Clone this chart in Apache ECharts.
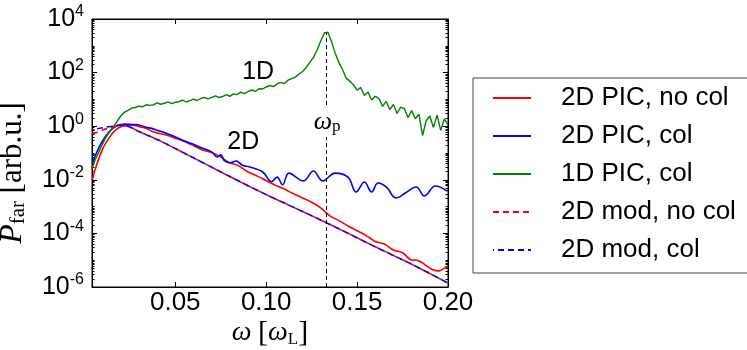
<!DOCTYPE html>
<html><head><meta charset="utf-8">
<script src="https://cdn.jsdelivr.net/npm/echarts@6/dist/echarts.min.js"></script>
<style>html,body{margin:0;padding:0;background:#fff}#c{width:747px;height:350px}</style>
</head><body><div id="c"></div>
<script>
// ---- data ----
const xTicks = [0.05, 0.10, 0.15, 0.20];
const xTickLabels = ['0.05', '0.10', '0.15', '0.20'];

const redOmega = [0.0044,0.006,0.008,0.010,0.012,0.014,0.016,0.018,0.020,0.022,0.025,0.028,0.031,0.034,0.037,0.040,0.045,0.050,0.055,0.060,0.065,0.070,0.075,0.080,0.085,0.090,0.095,0.100,0.105,0.110,0.115,0.120,0.125,0.130,0.135,0.140,0.145,0.150,0.155,0.160,0.165,0.170,0.175,0.180,0.183,0.186,0.189,0.192,0.195,0.198,0.200];
const redP = [0.010,0.025,0.063,0.14,0.25,0.40,0.60,0.79,0.95,1.05,1.10,1.07,0.93,0.83,0.65,0.56,0.47,0.355,0.27,0.19,0.13,0.105,0.071,0.043,0.033,0.0195,0.014,0.0093,0.0063,0.0045,0.0030,0.0021,0.00145,0.00089,0.00045,0.00030,0.00019,0.000126,0.000083,0.00005,0.00004,0.000024,0.000019,0.0000102,0.0000100,0.0000079,0.0000056,0.0000043,0.000004,0.000005,0.0000056];

const blueOmega = [0.0044,0.006,0.008,0.010,0.012,0.014,0.016,0.018,0.020,0.022,0.025,0.028,0.031,0.034,0.037,0.040,0.045,0.050,0.055,0.060,0.065,0.070,0.073,0.075,0.077,0.080,0.0835,0.087,0.091,0.098,0.103,0.106,0.109,0.1125,0.1205,0.126,0.131,0.138,0.145,0.1495,0.154,0.158,0.1615,0.166,0.1715,0.1765,0.1825,0.187,0.193,0.1995];
const blueP = [0.040,0.079,0.16,0.28,0.45,0.66,0.87,1.05,1.15,1.2,1.17,1.15,1.07,0.91,0.83,0.71,0.55,0.40,0.28,0.21,0.15,0.11,0.071,0.085,0.052,0.043,0.050,0.035,0.030,0.020,0.0085,0.0126,0.0065,0.0178,0.0091,0.0214,0.0091,0.0178,0.0126,0.0035,0.0083,0.0035,0.0076,0.0054,0.0021,0.0032,0.0054,0.0025,0.0059,0.0038];

const greenOmega = [0.004,0.006,0.008,0.010,0.012,0.014,0.016,0.018,0.020,0.022,0.024,0.026,0.028,0.030,0.032,0.034,0.036,0.038,0.040,0.042,0.044,0.046,0.048,0.050,0.052,0.054,0.056,0.058,0.060,0.062,0.064,0.066,0.068,0.070,0.072,0.074,0.076,0.078,0.080,0.082,0.084,0.086,0.088,0.090,0.092,0.094,0.096,0.098,0.100,0.102,0.104,0.106,0.108,0.110,0.112,0.114,0.116,0.118,0.120,0.122,0.124,0.126,0.128,0.130,0.132,0.134,0.136,0.138,0.140,0.142,0.144,0.146,0.148,0.150,0.152,0.154,0.156,0.158,0.160,0.162,0.164,0.166,0.168,0.170,0.172,0.174,0.176,0.178,0.180,0.182,0.184,0.186,0.188,0.190,0.192,0.194,0.196,0.198,0.200];
const greenP = [0.025,0.056,0.11,0.22,0.40,0.63,0.95,1.5,2.4,3.3,
3.9,4.7,5.0,5.6,5.3,6.3,6.0,6.2,7.4,6.6,
7.2,8.1,7.0,7.8,8.2,9.4,8.0,9.0,10.2,9.1,
10.8,11.9,10.4,11.6,13.5,11.8,12.8,15.2,13.0,16.0,
15.0,18.6,16.4,19.5,22.4,19.8,25.0,24.5,29,33,
30,38,43,39,52,60,68,88,110,155,
240,370,700,1500,3000,3200,1400,520,240,130,
62,48,35,22,28,14,19,9.5,13,11,
5.5,8.5,4.2,6.5,3.0,5.2,4.5,2.1,3.8,1.9,
2.8,0.45,1.6,2.4,0.9,2.6,0.7,1.9,1.1];

const modOmega = [0.0042,0.007,0.010,0.013,0.016,0.019,0.022,0.026,0.030,0.040,0.060,0.080,0.100,0.120,0.140,0.160,0.180,0.200];
const modNoColP = [0.52,0.60,0.72,0.85,0.95,1.03,1.05,0.87,0.63,0.32,0.066,0.0132,0.0028,0.00066,0.000148,0.0000316,0.0000071,0.0000014];
const modColP = [0.74,0.80,0.87,0.95,1.0,1.07,1.05,0.87,0.63,0.32,0.066,0.0132,0.0028,0.00066,0.000148,0.0000316,0.0000071,0.0000014];

const omegaP = 0.133;
const peakP = 3100;

const seriesNames = ['2D PIC, no col', '2D PIC, col', '1D PIC, col', '2D mod, no col', '2D mod, col'];

// ---- chart ----
const pairs = (xs, ys) => xs.map((x, i) => [x, ys[i]]);
const minorLog = [];
for (let d = -6; d < 4; d++) {
  if (d % 2 !== 0) minorLog.push(d);
  for (let k = 2; k <= 9; k++) minorLog.push(d + Math.log10(k));
}
const serif = 'Liberation Serif';
const sans = 'Liberation Sans';

const chart = echarts.init(document.getElementById('c'), null, {renderer: 'canvas'});
const tickStyle = {color: '#000', width: 1};

chart.setOption({
  animation: false,
  backgroundColor: '#fff',
  textStyle: {fontFamily: sans, color: '#000'},
  grid: {left: 92, right: 299, top: 19, bottom: 63, show: true, borderColor: '#000', borderWidth: 1, backgroundColor: 'transparent'},
  legend: {
    data: seriesNames, orient: 'vertical', left: 473, top: 78,
    padding: [7, 12, 10, 19], itemWidth: 38, itemHeight: 14, itemGap: 12,
    borderColor: '#444', borderWidth: 1, backgroundColor: '#fff',
    itemStyle: {opacity: 0, borderWidth: 0},
    textStyle: {fontSize: 26, fontFamily: sans, color: '#000', lineHeight: 26, padding: [0, 0, 0, 25]},
    selectedMode: false
  },
  xAxis: [
    {type: 'value', min: 0.0042, max: 0.2, position: 'bottom',
     axisLine: {show: true, onZero: false, lineStyle: tickStyle},
     axisTick: {show: true, inside: true, length: 5, customValues: xTicks, lineStyle: tickStyle},
     axisLabel: {show: true, customValues: xTicks, margin: 3, fontSize: 26, fontFamily: sans, color: '#000',
       formatter: v => { const i = xTicks.findIndex(t => Math.abs(t - v) < 1e-9); return i >= 0 ? xTickLabels[i] : ''; }},
     splitLine: {show: false}},
    {type: 'value', min: 0.0042, max: 0.2, position: 'top',
     axisLine: {show: true, onZero: false, lineStyle: tickStyle},
     axisTick: {show: true, inside: true, length: 5, customValues: xTicks, lineStyle: tickStyle},
     axisLabel: {show: false}, splitLine: {show: false}}
  ],
  yAxis: [
    {type: 'log', logBase: 10, min: 1e-6, max: 1e4, interval: 2, splitNumber: 5, position: 'left',
     axisLine: {show: true, onZero: false, lineStyle: tickStyle},
     axisTick: {show: true, inside: true, length: 5, lineStyle: tickStyle},
     axisLabel: {show: true, margin: 8, color: '#000',
       formatter: v => '{b|10}{s|' + Math.round(Math.log10(v)) + '}',
       rich: {b: {fontSize: 25, fontFamily: sans, color: '#000', lineHeight: 30},
              s: {fontSize: 16, fontFamily: sans, color: '#000', verticalAlign: 'top'}}},
     splitLine: {show: false}, minorTick: {show: false}},
    {type: 'log', logBase: 10, min: 1e-6, max: 1e4, interval: 2, splitNumber: 5, position: 'right',
     axisLine: {show: true, onZero: false, lineStyle: tickStyle},
     axisTick: {show: true, inside: true, length: 5, lineStyle: tickStyle},
     axisLabel: {show: false}, splitLine: {show: false}},
    {type: 'value', min: -6, max: 4, position: 'left',
     axisLine: {show: false}, axisTick: {show: true, inside: true, length: 2.5, customValues: minorLog, lineStyle: tickStyle},
     axisLabel: {show: false}, splitLine: {show: false}},
    {type: 'value', min: -6, max: 4, position: 'right',
     axisLine: {show: false}, axisTick: {show: true, inside: true, length: 2.5, customValues: minorLog, lineStyle: tickStyle},
     axisLabel: {show: false}, splitLine: {show: false}}
  ],
  series: [
    {name: seriesNames[0], type: 'line', data: pairs(redOmega, redP), symbol: 'none', showSymbol: false, smooth: 0.3,
     lineStyle: {color: '#ff0000', width: 1.6}, itemStyle: {color: '#ff0000'}},
    {name: seriesNames[1], type: 'line', data: pairs(blueOmega, blueP), symbol: 'none', showSymbol: false, smooth: 0.4,
     lineStyle: {color: '#0000ff', width: 1.6}, itemStyle: {color: '#0000ff'}},
    {name: seriesNames[2], type: 'line', data: pairs(greenOmega, greenP), symbol: 'none', showSymbol: false,
     lineStyle: {color: '#008000', width: 1.4}, itemStyle: {color: '#008000'},
     markLine: {silent: true, symbol: ['none', 'none'], label: {show: false},
       lineStyle: {color: '#000', type: [4, 3], width: 1},
       data: [[{coord: [omegaP, 1e-6]}, {coord: [omegaP, peakP]}]]}},
    {name: seriesNames[3], type: 'line', data: pairs(modOmega, modNoColP), symbol: 'none', showSymbol: false, smooth: 0.3,
     lineStyle: {color: '#ff0000', width: 1.6, type: [6, 4]}, itemStyle: {color: '#ff0000'}},
    {name: seriesNames[4], type: 'line', data: pairs(modOmega, modColP), symbol: 'none', showSymbol: false, smooth: 0.3,
     lineStyle: {color: '#0000ff', width: 1.6, type: [6, 4], dashOffset: 5}, itemStyle: {color: '#0000ff'}},
    {name: 'annotations', type: 'scatter', symbolSize: 0, silent: true, z: 10,
     itemStyle: {opacity: 1, color: '#000'},
     data: [
       {value: [0.0956, 105], label: {show: true, position: 'inside', formatter: '1D', fontSize: 25, fontFamily: sans, color: '#000', opacity: 1, textBorderWidth: 0}},
       {value: [0.0874, 0.257], label: {show: true, position: 'inside', formatter: '2D', fontSize: 25, fontFamily: sans, color: '#000', opacity: 1, textBorderWidth: 0}},
       {value: [0.1335, 1.44], label: {show: true, position: 'inside', formatter: '{w|ω}{p|p}', backgroundColor: '#fff', padding: [2, 0, 2, 0], opacity: 1,
         rich: {w: {fontSize: 26, fontFamily: serif, fontStyle: 'italic', color: '#000'},
                p: {fontSize: 17, fontFamily: serif, color: '#000', verticalAlign: 'bottom'}}}}
     ]}
  ],
  graphic: [
    {type: 'text', x: 270, y: 333, silent: true,
     style: {text: '{w|ω} {b|[}{w|ω}{l|L}{b|]}', align: 'center', verticalAlign: 'middle', textAlign: 'center', textVerticalAlign: 'middle',
       fontSize: 26, fontFamily: serif,
       rich: {w: {fontSize: 28, fontFamily: serif, fontStyle: 'italic', fill: '#000', color: '#000'},
              b: {fontSize: 30, fontFamily: serif, fill: '#000', color: '#000'},
              l: {fontSize: 17, fontFamily: serif, fill: '#000', color: '#000', verticalAlign: 'bottom'}}}},
    {type: 'text', x: 13, y: 173, rotation: Math.PI / 2, silent: true,
     style: {text: '{p|P}{s|far} {t|[arb.u.]}', align: 'center', verticalAlign: 'middle', textAlign: 'center', textVerticalAlign: 'middle',
       fontSize: 30, fontFamily: serif,
       rich: {p: {fontSize: 32, fontFamily: serif, fontStyle: 'italic', fill: '#000', color: '#000'},
              s: {fontSize: 21, fontFamily: serif, fill: '#000', color: '#000', verticalAlign: 'bottom'},
              t: {fontSize: 31, fontFamily: serif, fill: '#000', color: '#000'}}}}
  ]
});
</script></body></html>
